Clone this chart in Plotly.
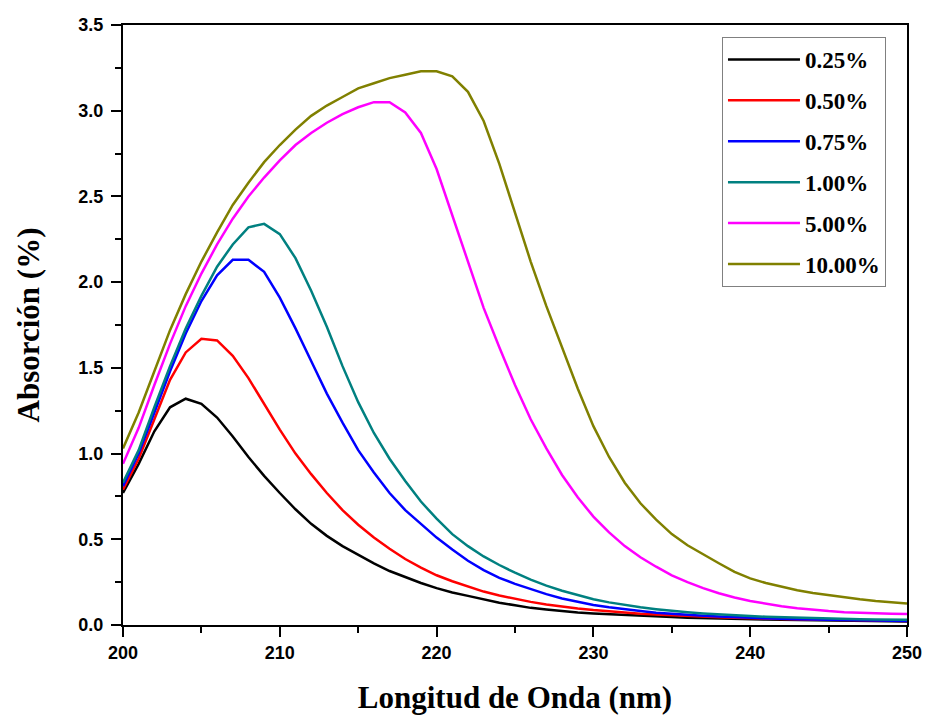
import plotly.graph_objects as go

wavelength = list(range(200, 251))

names = ["0.25%", "0.50%", "0.75%", "1.00%", "5.00%", "10.00%"]
colors = ["#000000", "#FF0000", "#0000FF", "#008080", "#FF00FF", "#808000"]

abs_025 = [0.77, 0.94, 1.13, 1.27, 1.32, 1.29, 1.21, 1.10, 0.98, 0.87,
           0.77, 0.675, 0.59, 0.52, 0.46, 0.41, 0.36, 0.315, 0.28, 0.245,
           0.215, 0.19, 0.17, 0.15, 0.13, 0.115, 0.10, 0.09, 0.08, 0.073,
           0.067, 0.062, 0.057, 0.053, 0.049, 0.046, 0.043, 0.040, 0.038, 0.036,
           0.034, 0.032, 0.030, 0.029, 0.027, 0.026, 0.025, 0.024, 0.023, 0.022,
           0.021]
abs_050 = [0.79, 0.97, 1.20, 1.43, 1.59, 1.67, 1.66, 1.57, 1.44, 1.29,
           1.14, 1.00, 0.88, 0.77, 0.67, 0.585, 0.51, 0.445, 0.385, 0.335,
           0.29, 0.255, 0.225, 0.195, 0.172, 0.152, 0.135, 0.12, 0.107, 0.096,
           0.087, 0.079, 0.072, 0.066, 0.061, 0.056, 0.052, 0.048, 0.045, 0.042,
           0.039, 0.037, 0.035, 0.033, 0.031, 0.030, 0.028, 0.027, 0.026, 0.025,
           0.024]
abs_075 = [0.81, 1.00, 1.24, 1.48, 1.70, 1.89, 2.04, 2.13, 2.13, 2.06,
           1.91, 1.73, 1.54, 1.35, 1.18, 1.02, 0.89, 0.77, 0.67, 0.59,
           0.51, 0.44, 0.375, 0.32, 0.275, 0.24, 0.21, 0.18, 0.155, 0.135,
           0.117, 0.103, 0.091, 0.081, 0.072, 0.065, 0.059, 0.054, 0.049, 0.045,
           0.042, 0.039, 0.036, 0.034, 0.032, 0.030, 0.028, 0.027, 0.025, 0.024,
           0.023]
abs_100 = [0.83, 1.02, 1.27, 1.51, 1.73, 1.92, 2.09, 2.22, 2.32, 2.34,
           2.28, 2.14, 1.95, 1.74, 1.51, 1.30, 1.12, 0.97, 0.84, 0.72,
           0.62, 0.53, 0.46, 0.40, 0.35, 0.305, 0.265, 0.23, 0.20, 0.173,
           0.15, 0.132, 0.116, 0.103, 0.092, 0.082, 0.074, 0.067, 0.061, 0.056,
           0.052, 0.048, 0.045, 0.042, 0.040, 0.038, 0.036, 0.034, 0.032, 0.031,
           0.030]
abs_500 = [0.94, 1.15, 1.40, 1.64, 1.86, 2.05, 2.22, 2.37, 2.50, 2.61,
           2.71, 2.80, 2.87, 2.93, 2.98, 3.02, 3.05, 3.05, 2.99, 2.87,
           2.66, 2.39, 2.12, 1.85, 1.62, 1.40, 1.20, 1.03, 0.875, 0.745,
           0.632, 0.54, 0.46, 0.395, 0.34, 0.29, 0.25, 0.215, 0.185, 0.16,
           0.14, 0.123, 0.11, 0.098, 0.088, 0.081, 0.075, 0.071, 0.068, 0.066,
           0.064]
abs_1000 = [1.03, 1.24, 1.48, 1.72, 1.93, 2.12, 2.29, 2.45, 2.58, 2.70,
            2.80, 2.89, 2.97, 3.03, 3.08, 3.13, 3.16, 3.19, 3.21, 3.23,
            3.23, 3.20, 3.11, 2.94, 2.69, 2.40, 2.12, 1.86, 1.62, 1.38,
            1.16, 0.98, 0.83, 0.71, 0.615, 0.53, 0.465, 0.41, 0.36, 0.31,
            0.272, 0.245, 0.222, 0.203, 0.187, 0.174, 0.163, 0.150, 0.140, 0.132,
            0.126]

series = [abs_025, abs_050, abs_075, abs_100, abs_500, abs_1000]

fig = go.Figure()
for i, (name, color, ys) in enumerate(zip(names, colors, series)):
    fig.add_trace(go.Scatter(
        x=wavelength, y=ys, mode="lines", name=name,
        line=dict(color=color, width=2.5),
        legendgroup=f"g{i}",
    ))

axis_common = dict(
    showline=True, linecolor="black", linewidth=2, mirror=True,
    ticks="outside", ticklen=10, tickwidth=2, tickcolor="black",
    showgrid=False, zeroline=False,
    tickfont=dict(family="Liberation Sans, Arial, sans-serif", size=18,
                  color="black", weight="bold"),
)

fig.update_xaxes(
    range=[200, 250], dtick=10, tick0=200,
    minor=dict(dtick=5, ticks="outside", ticklen=6, tickwidth=2, tickcolor="black"),
    title=dict(text="Longitud de Onda (nm)", standoff=28,
               font=dict(family="Liberation Serif, Times New Roman, serif",
                         size=31, color="black", weight="bold")),
    **axis_common,
)
fig.update_yaxes(
    range=[0, 3.5], dtick=0.5, tick0=0, tickformat=".1f",
    ticklabelstandoff=4,
    minor=dict(dtick=0.25, ticks="outside", ticklen=6, tickwidth=2, tickcolor="black"),
    title=dict(text="Absorción (%)", standoff=30,
               font=dict(family="Liberation Serif, Times New Roman, serif",
                         size=31, color="black", weight="bold")),
    **axis_common,
)

fig.update_layout(
    width=925, height=715,
    margin=dict(l=123, r=18, t=25, b=90, autoexpand=False),
    paper_bgcolor="white", plot_bgcolor="white",
    showlegend=True,
    legend=dict(
        x=0.764, y=0.98, xanchor="left", yanchor="top",
        bordercolor="#808080", borderwidth=1, bgcolor="white",
        font=dict(family="Liberation Serif, Times New Roman, serif",
                  size=23, color="black", weight="bold"),
        tracegroupgap=8, traceorder="grouped",
        itemwidth=72,
    ),
)

fig.write_html("out.html")
